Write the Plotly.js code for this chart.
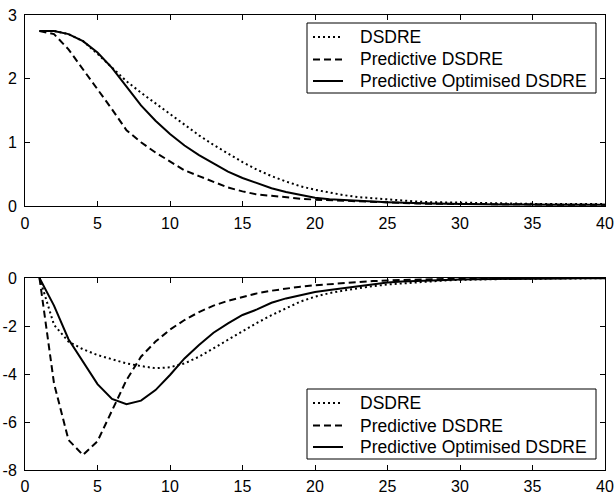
<!DOCTYPE html>
<html><head><meta charset="utf-8">
<script src="https://cdn.plot.ly/plotly-3.0.1.min.js"></script>
<style>html,body{margin:0;padding:0;background:#fff}</style>
</head><body><div id="chart" style="width:615px;height:495px"></div>
<script>
const steps = [1,2,3,4,5,6,7,8,9,10,11,12,13,14,15,16,17,18,19,20,21,22,23,24,25,26,27,28,29,30,31,32,33,34,35,36,37,38,39,40];

const seriesNames = ['DSDRE', 'Predictive DSDRE', 'Predictive Optimised DSDRE'];

// Top panel
const topDSDRE = [2.75,2.75,2.70,2.59,2.39,2.18,1.96,1.78,1.61,1.44,1.27,1.11,0.96,0.82,0.69,0.57,0.47,0.385,0.31,0.255,0.21,0.17,0.14,0.12,0.10,0.085,0.07,0.06,0.055,0.05,0.045,0.04,0.04,0.035,0.035,0.03,0.03,0.03,0.03,0.03];
const topPred = [2.75,2.70,2.46,2.15,1.83,1.52,1.19,1.00,0.84,0.70,0.56,0.47,0.375,0.29,0.23,0.18,0.16,0.135,0.115,0.10,0.09,0.08,0.07,0.06,0.05,0.045,0.04,0.035,0.035,0.03,0.03,0.03,0.025,0.025,0.025,0.02,0.02,0.02,0.02,0.02];
const topPredOpt = [2.75,2.75,2.70,2.59,2.41,2.17,1.875,1.58,1.34,1.13,0.95,0.80,0.67,0.54,0.44,0.36,0.28,0.22,0.17,0.13,0.105,0.09,0.08,0.07,0.06,0.05,0.045,0.04,0.035,0.03,0.03,0.025,0.025,0.025,0.02,0.02,0.02,0.02,0.02,0.02];

// Bottom panel
const botDSDRE = [0,-1.95,-2.65,-2.97,-3.21,-3.39,-3.56,-3.67,-3.76,-3.72,-3.56,-3.28,-2.93,-2.58,-2.2,-1.87,-1.55,-1.25,-0.98,-0.78,-0.63,-0.52,-0.42,-0.34,-0.27,-0.22,-0.17,-0.13,-0.10,-0.08,-0.06,-0.05,-0.04,-0.03,-0.03,-0.02,-0.02,-0.01,-0.01,-0.01];
const botPred = [0,-4.39,-6.75,-7.375,-6.8,-5.5,-4.25,-3.28,-2.65,-2.15,-1.75,-1.42,-1.15,-0.95,-0.78,-0.64,-0.53,-0.44,-0.36,-0.30,-0.25,-0.20,-0.16,-0.13,-0.10,-0.08,-0.06,-0.05,-0.04,-0.03,-0.02,-0.02,-0.02,-0.01,-0.01,-0.01,-0.01,0,0,0];
const botPredOpt = [0,-1.15,-2.55,-3.49,-4.42,-5.04,-5.26,-5.11,-4.67,-4.04,-3.35,-2.79,-2.28,-1.89,-1.54,-1.31,-1.03,-0.85,-0.70,-0.58,-0.50,-0.42,-0.32,-0.24,-0.19,-0.15,-0.12,-0.10,-0.08,-0.06,-0.05,-0.04,-0.03,-0.03,-0.02,-0.02,-0.01,-0.01,-0.01,-0.01];

const xTickVals = [0,5,10,15,20,25,30,35,40];
const topYTickVals = [0,1,2,3];
const botYTickVals = [-8,-6,-4,-2,0];
const botYTickText = ['-8','-6','-4','-2','0'];

const styles = [
  {color:'black', width:2, dash:'2px,3px'},
  {color:'black', width:2, dash:'7px,4px'},
  {color:'black', width:2, dash:'solid'}
];

const topSeries = [topDSDRE, topPred, topPredOpt];
const botSeries = [botDSDRE, botPred, botPredOpt];

const data = [];
topSeries.forEach((ys, i) => data.push({
  x: steps, y: ys, type:'scatter', mode:'lines', name: seriesNames[i],
  line: styles[i], xaxis:'x', yaxis:'y', showlegend:false
}));
botSeries.forEach((ys, i) => data.push({
  x: steps, y: ys, type:'scatter', mode:'lines', name: seriesNames[i],
  line: styles[i], xaxis:'x2', yaxis:'y2', showlegend:false
}));

// Legend boxes drawn in pixel space of the figure, converted to paper coords
const W = 615, H = 495, M = {l:25, r:10, t:15, b:25};
const pw = W - M.l - M.r, ph = H - M.t - M.b;
const px = v => (v - M.l) / pw;
const py = v => (H - M.b - v) / ph;

const shapes = [];
const annotations = [];
function addLegend(top) {
  shapes.push({type:'rect', xref:'paper', yref:'paper', x0:px(307), x1:px(596), y0:py(top), y1:py(top+70),
    line:{color:'black', width:1}, fillcolor:'white', layer:'above'});
  const offs = [14, 36.5, 58];
  seriesNames.forEach((nm, i) => {
    const yy = top + offs[i];
    shapes.push({type:'line', xref:'paper', yref:'paper', x0:px(313), x1:px(343), y0:py(yy), y1:py(yy),
      line:{color:'black', width:2, dash:styles[i].dash}, layer:'above'});
    annotations.push({xref:'paper', yref:'paper', x:px(358), y:py(yy), xanchor:'left', yanchor:'middle',
      text:nm, showarrow:false, font:{size:17.5, color:'black'}});
  });
}
addLegend(23);
addLegend(389);

const axisCommon = {
  showline:true, linecolor:'black', linewidth:1, mirror:'ticks',
  ticks:'inside', ticklen:5, tickwidth:1, tickcolor:'black',
  showgrid:false, zeroline:false, fixedrange:true
};

const layout = {
  width:W, height:H,
  margin:M,
  paper_bgcolor:'white', plot_bgcolor:'white',
  font:{family:'"Liberation Sans", Arial, sans-serif', size:16, color:'black'},
  showlegend:false,
  xaxis: Object.assign({}, axisCommon, {domain:[0,1], anchor:'y', range:[0,40], tickvals:xTickVals, ticklabelstandoff:3}),
  yaxis: Object.assign({}, axisCommon, {domain:[py(206),1], anchor:'x', range:[0,3], tickvals:topYTickVals, ticklabelstandoff:4}),
  xaxis2: Object.assign({}, axisCommon, {domain:[0,1], anchor:'y2', range:[0,40], tickvals:xTickVals, ticklabelstandoff:2}),
  yaxis2: Object.assign({}, axisCommon, {domain:[0,py(278)], anchor:'x2', range:[-8,0], tickvals:botYTickVals, ticktext:botYTickText, ticklabelstandoff:4}),
  shapes: shapes,
  annotations: annotations
};

Plotly.newPlot('chart', data, layout, {displayModeBar:false, staticPlot:true});
</script>
</body></html>
